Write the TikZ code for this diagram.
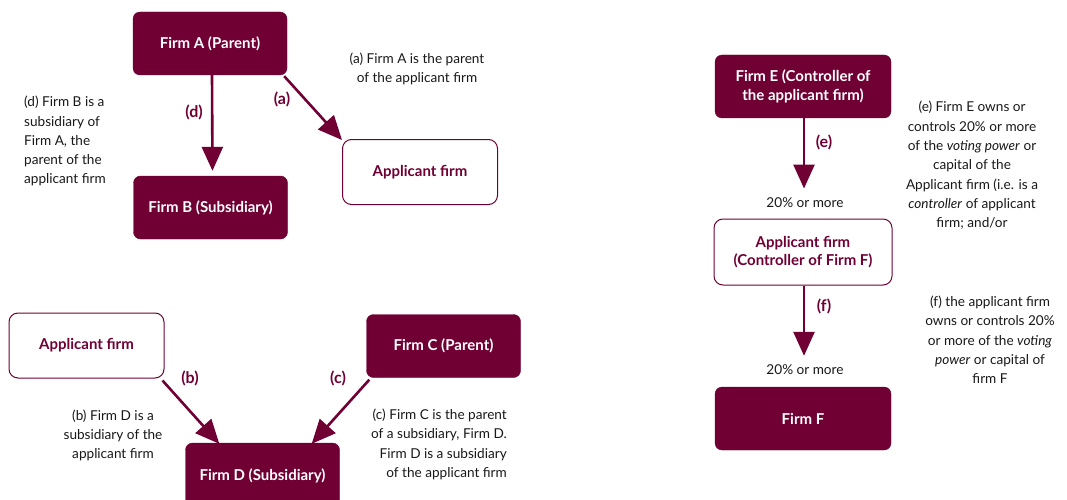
\documentclass[tikz,border=0pt]{standalone}
\usepackage{fontspec}
\setmainfont{Lato}
\usetikzlibrary{arrows.meta}
\definecolor{maroon}{RGB}{112,0,52}
\definecolor{txt}{RGB}{25,25,25}
\tikzset{
  fillbox/.style={draw=maroon, fill=maroon, rounded corners=7pt, text=white, font=\bfseries\fontsize{15}{18.5}\selectfont, align=center, minimum width=154pt, minimum height=63pt, inner sep=0pt},
  linebox/.style={draw=maroon, line width=1pt, fill=white, rounded corners=9pt, text=maroon, font=\bfseries\fontsize{15}{18.5}\selectfont, align=center, minimum width=155pt, minimum height=65pt, inner sep=0pt},
  arr/.style={draw=maroon, line width=2.6pt, -{Triangle[width=21pt,length=24pt]}},
  tag/.style={text=maroon, font=\bfseries\fontsize{16}{18}\selectfont},
  desc/.style={text=txt, font=\fontsize{13.6}{19.3}\selectfont, inner sep=0pt},
}
\begin{document}
\begin{tikzpicture}[x=1pt,y=-1pt]
\clip (0,0) rectangle (1067,500);
\fill[white] (0,0) rectangle (1067,500);
% top-left group
\node[fillbox] (A) at (210,43.5) {Firm A (Parent)};
\node[fillbox] (B) at (210.5,207.5) {Firm B (Subsidiary)};
\node[linebox] (P1) at (420,172) {Applicant firm};
\draw[arr, shorten >=5pt] ([xshift=2pt]A.south) -- ([xshift=2pt]B.north);
\draw[arr] ([xshift=-3pt,yshift=-1pt]A.south east) -- ([yshift=-1pt]P1.north west);
\node[tag] (d) at (194,112) {(d)};
\node[tag] (a) at (282,99) {(a)};
\node[desc, align=center] (ta) at (417,69) {(a) Firm A is the parent\\of the applicant firm};
\node[desc, align=left, anchor=north west] (td) at (24,96) {(d) Firm B is a\\subsidiary of\\Firm A, the\\parent of the\\applicant firm};
% bottom-left group
\node[linebox] (P2) at (86.5,345.5) {\raisebox{4pt}{Applicant firm}};
\node[fillbox] (C) at (443.5,346) {Firm C (Parent)};
\node[fillbox, minimum height=66pt] (D) at (262.5,476) {\raisebox{1pt}{Firm D (Subsidiary)}};
\draw[arr] ([xshift=-2pt,yshift=-2pt]P2.south east) -- ([xshift=34pt,yshift=-1pt]D.north west);
\draw[arr] ([xshift=3pt,yshift=-2pt]C.south west) -- ([xshift=-28pt,yshift=-1pt]D.north east);
\node[tag] (b) at (190,378) {(b)};
\node[tag] (c) at (338,378) {(c)};
\node[desc, align=center] (tb) at (113,435.5) {(b) Firm D is a\\subsidiary of the\\applicant firm};
\node[desc, align=right, anchor=east] (tc) at (507,444.5) {(c) Firm C is the parent\\of a subsidiary, Firm D.\\Firm D is a subsidiary\\of the applicant firm};
% right group
\node[fillbox, minimum width=176pt] (E) at (803,86.5) {Firm E (Controller of\\the applicant firm)};
\node[linebox, minimum width=178pt, minimum height=66pt] (P3) at (803,252) {Applicant firm\\(Controller of Firm F)};
\node[fillbox, minimum width=176pt] (F) at (803,418.5) {Firm F};
\node[desc] (pe) at (805,203) {20\% or more};
\node[desc] (pf) at (805,370) {20\% or more};
\draw[arr, shorten >=30pt] ([xshift=1pt]E.south) -- ([xshift=1pt]P3.north);
\draw[arr, shorten >=31pt] ([xshift=1pt]P3.south) -- ([xshift=1pt]F.north);
\node[tag] (e) at (824,142) {(e)};
\node[tag] (f) at (824,306) {(f)};
\node[desc, align=center] (te) at (972,165.5) {(e) Firm E owns or\\controls 20\% or more\\of the \textit{voting power} or\\capital of the\\Applicant firm (i.e. is a\\\textit{controller} of applicant\\firm; and/or};
\node[desc, align=center] (tf) at (990,340) {(f) the applicant firm\\owns or controls 20\%\\or more of the \textit{voting}\\\textit{power} or capital of\\firm F};
\end{tikzpicture}
\end{document}
